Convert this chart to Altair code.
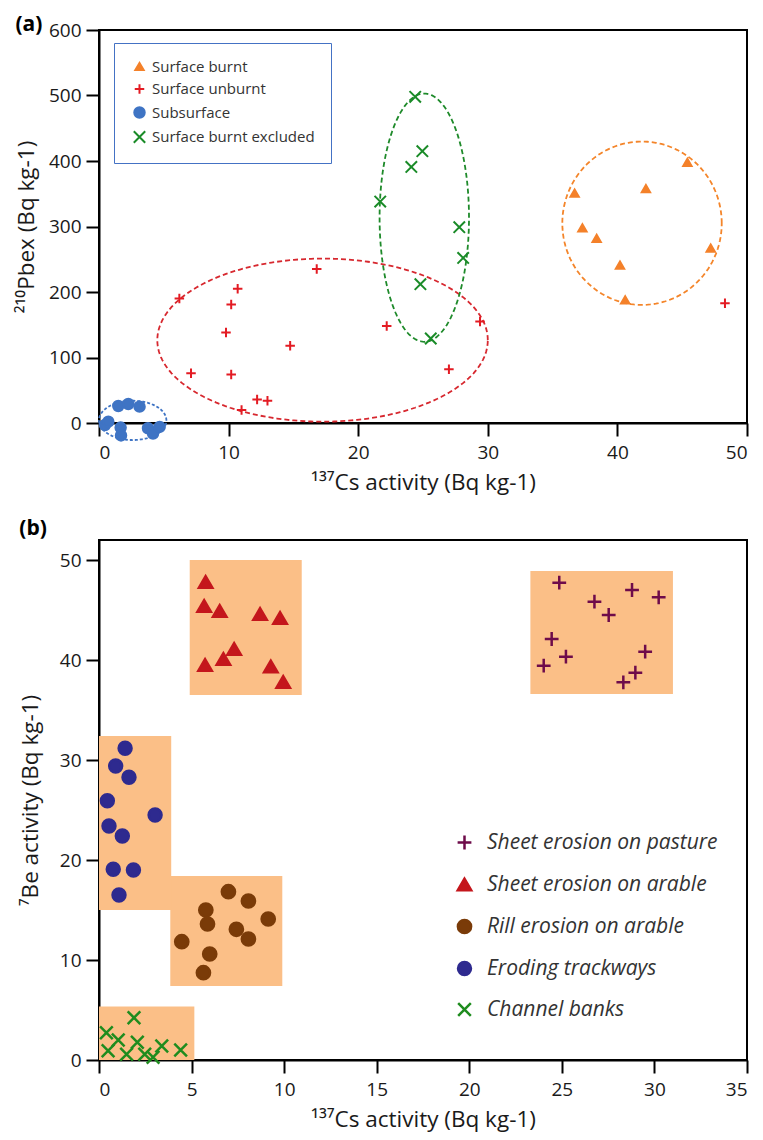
import altair as alt
import numpy as np
import pandas as pd

FONT = "Open Sans"

# ---------------- Panel (a) data ----------------
a_groups = ["Surface burnt", "Surface unburnt", "Subsurface", "Surface burnt excluded"]

burnt_x = [36.7, 37.3, 38.4, 40.2, 40.6, 42.2, 45.4, 47.2]
burnt_y = [351, 298, 282, 241, 188, 358, 398, 267]

unburnt_x = [6.2, 10.7, 10.2, 9.8, 7.1, 10.2, 14.75, 12.2, 13.0, 11.0, 16.8, 22.2, 29.4, 27.0, 48.3]
unburnt_y = [190, 205, 181, 138, 76, 74, 118, 36, 34, 20, 235, 148, 155, 82, 183]

subsurface_x = [0.46, 0.72, 1.49, 2.26, 3.13, 1.67, 1.70, 3.78, 4.17, 4.68]
subsurface_y = [-3, 2, 26, 29, 25, -7, -19, -8, -16, -6]

excluded_x = [24.4, 24.95, 24.1, 21.7, 27.8, 28.1, 24.8, 25.6]
excluded_y = [498, 415, 391, 338, 299, 252, 212, 129]

# ellipse annotations: centre x, centre y, radius x, radius y
ell_names = ["Subsurface", "Surface unburnt", "Surface burnt excluded", "Surface burnt"]
ell_cx = [2.6, 17.25, 25.1, 41.9]
ell_cy = [4, 126.5, 313.5, 305]
ell_rx = [2.6, 12.75, 3.45, 6.15]
ell_ry = [30, 124.5, 189.5, 124.7]
ell_colors = ["#3F74C4", "#D7282F", "#1E8A2A", "#F4852A"]
ell_dash = [[3, 2], [5, 3], [5, 3], [5, 3]]

a_fill = ["#F4812A", "transparent", "#3F74C4", "transparent"]
a_stroke = ["#F4812A", "#E31B23", "#3F74C4", "#1A8B28"]
a_size = [70, 130, 60, 80]

# ---------------- Panel (b) data ----------------
b_groups = ["Sheet erosion on pasture", "Sheet erosion on arable", "Rill erosion on arable",
            "Eroding trackways", "Channel banks"]

pasture_x = [24.86, 26.76, 27.53, 28.79, 30.23, 24.45, 25.22, 24.02, 29.5, 28.97, 28.32]
pasture_y = [47.73, 45.83, 44.5, 47.0, 46.27, 42.1, 40.33, 39.43, 40.83, 38.73, 37.77]

arable_x = [5.76, 5.68, 6.52, 8.70, 9.78, 7.30, 6.72, 5.73, 9.28, 9.95]
arable_y = [47.8, 45.4, 44.9, 44.6, 44.2, 41.1, 40.1, 39.5, 39.35, 37.8]

rill_x = [4.47, 5.77, 5.86, 5.98, 5.64, 6.99, 7.42, 8.07, 8.07, 9.14]
rill_y = [11.83, 15.0, 13.6, 10.6, 8.73, 16.83, 13.07, 15.9, 12.1, 14.1]

track_x = [1.41, 0.9, 1.62, 0.45, 3.03, 0.54, 1.26, 0.77, 1.86, 1.08]
track_y = [31.17, 29.4, 28.27, 25.93, 24.5, 23.4, 22.4, 19.07, 19.0, 16.5]

channel_x = [0.4, 0.49, 1.04, 1.89, 1.49, 2.07, 2.47, 2.92, 3.39, 4.41]
channel_y = [2.73, 0.93, 2.0, 4.23, 0.57, 1.77, 0.57, 0.27, 1.4, 1.0]

# shaded boxes: x1, x2, y1, y2
box_x1 = [23.3, 4.9, 3.85, 0.0, 0.0]
box_x2 = [31.0, 10.95, 9.9, 3.9, 5.15]
box_y1 = [36.6, 36.5, 7.4, 15.0, 0.0]
box_y2 = [48.9, 50.0, 18.4, 32.4, 5.35]

b_fill = ["transparent", "#C4161C", "#7A3B08", "#2E2A8F", "transparent"]
b_stroke = ["#6E0B4A", "#C4161C", "#7A3B08", "#2E2A8F", "#1E8C1E"]
b_size = [190, 160, 105, 105, 120]

PLUS = "M-1,0H1M0,-1V1"
CROSS = "M-1,-1L1,1M-1,1L1,-1"

# ---------------- build tables ----------------
df_a = pd.concat([
    pd.DataFrame({"x": burnt_x, "y": burnt_y, "group": a_groups[0]}),
    pd.DataFrame({"x": unburnt_x, "y": unburnt_y, "group": a_groups[1]}),
    pd.DataFrame({"x": subsurface_x, "y": subsurface_y, "group": a_groups[2]}),
    pd.DataFrame({"x": excluded_x, "y": excluded_y, "group": a_groups[3]}),
], ignore_index=True)

df_b = pd.concat([
    pd.DataFrame({"x": pasture_x, "y": pasture_y, "group": b_groups[0]}),
    pd.DataFrame({"x": arable_x, "y": arable_y, "group": b_groups[1]}),
    pd.DataFrame({"x": rill_x, "y": rill_y, "group": b_groups[2]}),
    pd.DataFrame({"x": track_x, "y": track_y, "group": b_groups[3]}),
    pd.DataFrame({"x": channel_x, "y": channel_y, "group": b_groups[4]}),
], ignore_index=True)

df_box = pd.DataFrame({"x1": box_x1, "x2": box_x2, "y1": box_y1, "y2": box_y2})

XT_A = "\u00b9\u00b3\u2077Cs activity (Bq kg-1)"
YT_A = "\u00b2\u00b9\u2070Pbex (Bq kg-1)"
YT_B = "\u2077Be activity (Bq kg-1)"


def xa(field="x"):
    return alt.X(f"{field}:Q", scale=alt.Scale(domain=[0, 50], nice=False, zero=False),
                 axis=alt.Axis(values=[0, 10, 20, 30, 40, 50], title=XT_A, titlePadding=9, labelPadding=7))


def ya(field="y"):
    return alt.Y(f"{field}:Q", scale=alt.Scale(domain=[0, 600], nice=False, zero=False),
                 axis=alt.Axis(values=[0, 100, 200, 300, 400, 500, 600], title=YT_A, titlePadding=10))


def xb(field="x"):
    return alt.X(f"{field}:Q", scale=alt.Scale(domain=[0, 35], nice=False, zero=False),
                 axis=alt.Axis(values=[0, 5, 10, 15, 20, 25, 30, 35], title=XT_A, titlePadding=9, labelPadding=7))


def yb(field="y"):
    return alt.Y(f"{field}:Q", scale=alt.Scale(domain=[0, 52], nice=False, zero=False),
                 axis=alt.Axis(values=[0, 10, 20, 30, 40, 50], title=YT_B, titlePadding=17))


legend_a = alt.Legend(
    title=None, orient="none", legendX=15, legendY=13,
    strokeColor="#4472C4", fillColor="white", padding=16,
    labelFont=FONT, labelFontSize=15, labelColor="#333333", labelLimit=400,
    symbolStrokeWidth=2, rowPadding=4.5, labelOffset=5, symbolOffset=2,
)

ell_layers = []
for i in range(len(ell_names)):
    t = np.linspace(0, 2 * np.pi, 181)
    df_e = pd.DataFrame({
        "x": ell_cx[i] + ell_rx[i] * np.cos(t),
        "y": ell_cy[i] + ell_ry[i] * np.sin(t),
        "i": np.arange(len(t)),
    })
    ell_layers.append(
        alt.Chart(df_e).mark_line(color=ell_colors[i], strokeDash=ell_dash[i], strokeWidth=1.8)
        .encode(x=xa(), y=ya(), order="i:Q")
    )

pts_a = alt.Chart(df_a).mark_point(strokeWidth=2, opacity=1).encode(
    x=xa(), y=ya(),
    shape=alt.Shape("group:N", scale=alt.Scale(domain=a_groups, range=["triangle-up", PLUS, "circle", CROSS]), legend=legend_a),
    fill=alt.Fill("group:N", scale=alt.Scale(domain=a_groups, range=a_fill), legend=legend_a),
    stroke=alt.Stroke("group:N", scale=alt.Scale(domain=a_groups, range=a_stroke), legend=legend_a),
    size=alt.Size("group:N", scale=alt.Scale(domain=a_groups, range=a_size), legend=legend_a),
)

panel_a = alt.layer(*ell_layers, pts_a).properties(
    width=648, height=393,
    title=alt.TitleParams("(a)", anchor="start", frame="bounds", fontSize=21, fontWeight="bold",
                          font=FONT, offset=-14, color="black"),
)

legend_b = alt.Legend(
    title=None, orient="none", legendX=355, legendY=292,
    labelFont=FONT, labelFontSize=21, labelFontStyle="italic", labelColor="#333333", labelLimit=400,
    symbolStrokeWidth=2.5, rowPadding=18, labelOffset=12, padding=0,
)

boxes = alt.Chart(df_box).mark_rect(color="#FBBF87").encode(
    x=xb("x1"), x2="x2:Q", y=yb("y1"), y2="y2:Q"
)

pts_b = alt.Chart(df_b).mark_point(strokeWidth=2.5, opacity=1).encode(
    x=xb(), y=yb(),
    shape=alt.Shape("group:N", scale=alt.Scale(domain=b_groups, range=[PLUS, "triangle-up", "circle", "circle", CROSS]), legend=legend_b),
    fill=alt.Fill("group:N", scale=alt.Scale(domain=b_groups, range=b_fill), legend=legend_b),
    stroke=alt.Stroke("group:N", scale=alt.Scale(domain=b_groups, range=b_stroke), legend=legend_b),
    size=alt.Size("group:N", scale=alt.Scale(domain=b_groups, range=b_size), legend=legend_b),
)

panel_b = alt.layer(boxes, pts_b).properties(
    width=648, height=520,
    title=alt.TitleParams("(b)", anchor="start", frame="bounds", fontSize=21, fontWeight="bold",
                          font=FONT, offset=1, color="black"),
)

chart = alt.vconcat(panel_a, panel_b, spacing=22).resolve_scale(
    shape="independent", fill="independent", stroke="independent", size="independent"
).properties(
    padding={"left": 6, "top": 5, "right": 0, "bottom": 2}
).configure_view(
    stroke="black", strokeWidth=2
).configure_axis(
    domainColor="black", domainWidth=2, tickColor="black", tickWidth=2, tickSize=13,
    labelFont=FONT, labelFontSize=19, labelColor="#1a1a1a", labelPadding=5,
    titleFont=FONT, titleFontSize=22.5, titleFontWeight="normal", titleColor="#1a1a1a",
    grid=False,
)

chart.save("out.html", embed_options={"renderer": "svg", "actions": False})
